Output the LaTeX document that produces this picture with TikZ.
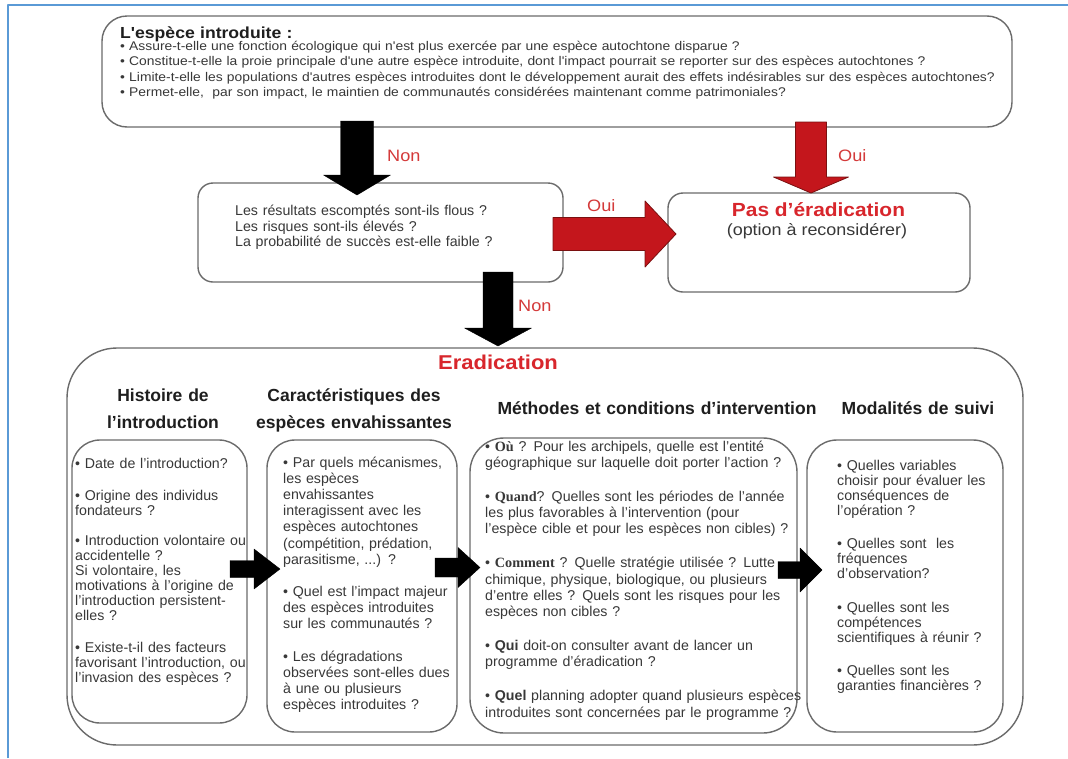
\documentclass[tikz,border=0pt]{standalone}
\usepackage{fontspec}
\setmainfont{Liberation Sans}
\newfontfamily\serifbold{Liberation Serif}
\newfontfamily\widesans[FakeStretch=1.1]{Liberation Sans}
\usetikzlibrary{calc}
\definecolor{boxline}{HTML}{6B6B6B}
\definecolor{txtc}{HTML}{383838}
\definecolor{headc}{HTML}{1E1E1E}
\definecolor{redtxt}{HTML}{D8262C}
\definecolor{lbl}{HTML}{D43A3A}
\definecolor{redfill}{HTML}{C4161C}
\definecolor{redline}{HTML}{7A1010}
\definecolor{frameblue}{HTML}{5A9AD6}
% vertical fat arrow: style, start, tip, half shaft, half head, head length
\newcommand\vfat[6]{\filldraw[#1] ($(#2)+(-#4,0)$) -- ($(#3)+(-#4,-#6)$) -- ($(#3)+(-#5,-#6)$) -- (#3) -- ($(#3)+(#5,-#6)$) -- ($(#3)+(#4,-#6)$) -- ($(#2)+(#4,0)$) -- cycle;}
% horizontal fat arrow
\newcommand\hfat[6]{\filldraw[#1] ($(#2)+(0,-#4)$) -- ($(#3)+(-#6,-#4)$) -- ($(#3)+(-#6,-#5)$) -- (#3) -- ($(#3)+(-#6,#5)$) -- ($(#3)+(-#6,#4)$) -- ($(#2)+(0,#4)$) -- cycle;}
\begin{document}
\begin{tikzpicture}[x=1pt,y=-1pt,line join=round,
  box/.style={draw=boxline, line width=1.4pt, fill=white, rounded corners=#1, inner sep=0pt},
  box/.default=15pt,
  tblock/.style={anchor=base west, inner sep=0pt, align=left, text=txtc, text width=#1},
  head/.style={anchor=base, inner sep=0pt, align=center, text=headc, text width=260pt, font=\bfseries\fontsize{17.5}{27}\selectfont},
  lab/.style={anchor=base west, inner sep=0pt, text=lbl, font=\widesans\fontsize{16.5}{16.5}\selectfont},
  blk/.style={fill=black, draw=black, line width=0.4pt},
  redarr/.style={fill=redfill, draw=redline, line width=0.8pt},
  colfont/.style={font=\fontsize{14.2}{#1}\selectfont}
]
\useasboundingbox (0,0) rectangle (1068,758);
\fill[white] (0,0) rectangle (1068,758);
% frame
\draw[frameblue, line width=1.5pt] (8,758) -- (8,5) -- (1068,5);

% boxes
\node[box=25pt, minimum width=910pt, minimum height=111pt] (top) at (557,71.5) {};
\node[box=15pt, minimum width=365pt, minimum height=99pt] (mid) at (380.5,232.5) {};
\node[box=15pt, minimum width=302pt, minimum height=99pt] (pas) at (819,242.5) {};
\node[box=50pt, minimum width=956pt, minimum height=397pt] (big) at (545,546.5) {};
\node[box=28pt, minimum width=175pt, minimum height=283pt] (c1) at (159.5,581.5) {};
\node[box=28pt, minimum width=190pt, minimum height=292pt] (c2) at (362,586) {};
\node[box=34pt, minimum width=327pt, minimum height=295pt] (c3) at (633.5,585.5) {};
\node[box=30pt, minimum width=196pt, minimum height=292pt] (c4) at (905,586) {};

% top box text
\node[tblock=300pt, text=headc, font=\widesans\bfseries\fontsize{16}{16}\selectfont] (tophead) at (120,38) {L'espèce introduite :};
\node[tblock=900pt, font=\widesans\fontsize{12.6}{15.4}\selectfont] (toptext) at (120,50.5) {%
• Assure-t-elle une fonction écologique qui n'est plus exercée par une espèce autochtone disparue ?\\
• Constitue-t-elle la proie principale d'une autre espèce introduite, dont l'impact pourrait se reporter sur des espèces autochtones ?\\
• Limite-t-elle les populations d'autres espèces introduites dont le développement aurait des effets indésirables sur des espèces autochtones?\\
• Permet-elle,\ \ par son impact, le maintien de communautés considérées maintenant comme patrimoniales?};

% middle box text
\node[tblock=330pt, font=\fontsize{14.2}{15.5}\selectfont] (midtext) at (235,215.5) {%
Les résultats escomptés sont-ils flous ?\\
Les risques sont-ils élevés ?\\
La probabilité de succès est-elle faible ?};

% pas d'eradication
\node[anchor=base, inner sep=0pt, text=redtxt, font=\widesans\bfseries\fontsize{19}{19}\selectfont] (pastitle) at (818.5,216.5) {Pas d’éradication};
\node[anchor=base, inner sep=0pt, text=txtc, font=\widesans\fontsize{16.3}{16}\selectfont] (pasopt) at (817,235) {(option à reconsidérer)};

% arrows top part
\coordinate (a1s) at (357,121);
\coordinate (a1e) at (357,195);
\vfat{blk}{a1s}{a1e}{16.5}{33.5}{20}
\coordinate (r1s) at (811,122);
\coordinate (r1e) at (811,193);
\vfat{redarr}{r1s}{r1e}{15.5}{37.5}{16}
\coordinate (r2s) at (553,234);
\coordinate (r2e) at (676,234);
\hfat{redarr}{r2s}{r2e}{16.5}{33}{31}
\coordinate (a2s) at (498,272);
\coordinate (a2e) at (498,346);
\vfat{blk}{a2s}{a2e}{15}{33.5}{18}

\node[lab] (non1) at (387,161.7) {Non};
\node[lab] (oui1) at (838,161.7) {Oui};
\node[lab] (oui2) at (587,211.7) {Oui};
\node[lab] (non2) at (518,311.7) {Non};

% eradication
\node[anchor=base, inner sep=0pt, text=redtxt, font=\widesans\bfseries\fontsize{20}{21}\selectfont] (erad) at (498,369) {Eradication};

% headings
\node[head] (h1) at (163,401) {Histoire de\\l'introduction};
\node[head] (h2) at (354,401) {Caractéristiques des\\espèces envahissantes};
\node[head, text width=400pt] (h3) at (657,414.5) {Méthodes et conditions d’intervention};
\node[head] (h4) at (918,414.5) {Modalités de suivi};

% column texts
\node[tblock=200pt, colfont=15] (t1) at (75,468) {%
• Date de l'introduction?\\[17pt]
• Origine des individus\\
fondateurs ?\\[15pt]
• Introduction volontaire ou\\
accidentelle ?\\
Si volontaire, les\\
motivations à l'origine de\\
l'introduction persistent-\\
elles ?\\[17pt]
• Existe-t-il des facteurs\\
favorisant l'introduction, ou\\
l'invasion des espèces ?};

\node[tblock=200pt, colfont=16.2] (t2) at (283,467) {%
• Par quels mécanismes,\\
les espèces\\
envahissantes\\
interagissent avec les\\
espèces autochtones\\
(compétition, prédation,\\
parasitisme, ...) ?\\[16pt]
• Quel est l'impact majeur\\
des espèces introduites\\
sur les communautés ?\\[16pt]
• Les dégradations\\
observées sont-elles dues\\
à une ou plusieurs\\
espèces introduites ?};

\node[tblock=340pt, colfont=16.3] (t3) at (485,451) {%
• {\serifbold\bfseries Où} ? Pour les archipels, quelle est l'entité\\
géographique sur laquelle doit porter l'action ?\\[17.6pt]
• {\serifbold\bfseries Quand}? Quelles sont les périodes de l'année\\
les plus favorables à l'intervention (pour\\
l'espèce cible et pour les espèces non cibles) ?\\[17.6pt]
• {\serifbold\bfseries Comment} ? Quelle stratégie utilisée ? Lutte\\
chimique, physique, biologique, ou plusieurs\\
d'entre elles ? Quels sont les risques pour les\\
espèces non cibles ?\\[17.6pt]
• {\bfseries Qui} doit-on consulter avant de lancer un\\
programme d'éradication ?\\[17.6pt]
• {\bfseries Quel} planning adopter quand plusieurs espèces\\
introduites sont concernées par le programme ?};

\node[tblock=200pt, colfont=15] (t4) at (837,470) {%
• Quelles variables\\
choisir pour évaluer les\\
conséquences de\\
l'opération ?\\[18pt]
• Quelles sont\ \ les\\
fréquences\\
d'observation?\\[19pt]
• Quelles sont les\\
compétences\\
scientifiques à réunir ?\\[18pt]
• Quelles sont les\\
garanties financières ?};

% arrows between columns
\coordinate (bAs) at (230,569);
\coordinate (bAe) at (280,569);
\hfat{blk}{bAs}{bAe}{8.5}{20}{26}
\coordinate (bBs) at (435,567.5);
\coordinate (bBe) at (480,567.5);
\hfat{blk}{bBs}{bBe}{9.5}{20}{22}
\coordinate (bCs) at (778,570);
\coordinate (bCe) at (822,570);
\hfat{blk}{bCs}{bCe}{8.5}{22}{22}
\end{tikzpicture}
\end{document}
